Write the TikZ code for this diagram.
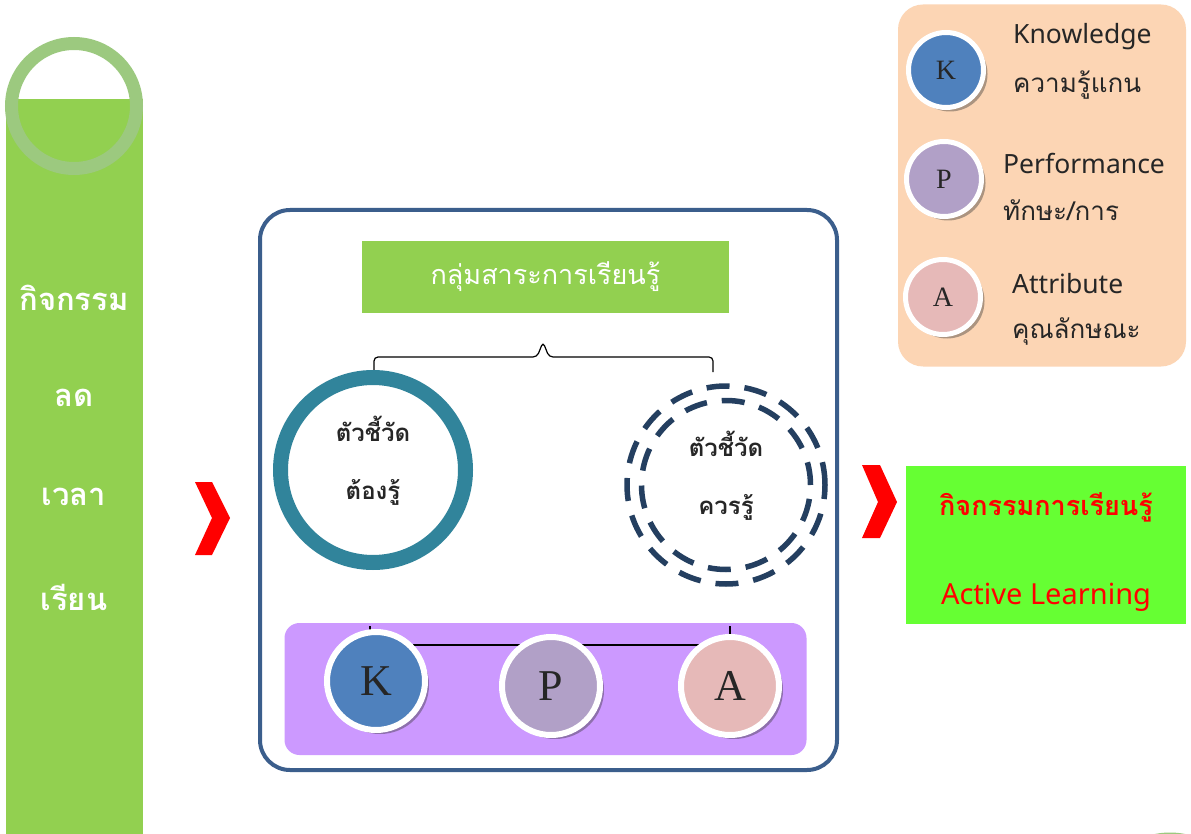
\documentclass[tikz,border=0pt]{standalone}
\usepackage{fontspec}
\newfontfamily\thaifont[Script=Thai]{Loma}
\newfontfamily\latinfont{Noto Sans}
\newfontfamily\letterfont{Liberation Serif}
\usetikzlibrary{shadows}

\definecolor{barGreen}{HTML}{92D050}
\definecolor{ringGreen}{HTML}{9CC97F}
\definecolor{frameBlue}{HTML}{3B5E8C}
\definecolor{tealRing}{HTML}{31849B}
\definecolor{navyDash}{HTML}{243F60}
\definecolor{stripPurple}{HTML}{CC99FF}
\definecolor{kBlue}{HTML}{4F81BD}
\definecolor{pLilac}{HTML}{B1A0C7}
\definecolor{aPink}{HTML}{E6B9B8}
\definecolor{legendPeach}{HTML}{FCD5B4}
\definecolor{actGreen}{HTML}{66FF33}
\definecolor{darkText}{HTML}{262626}

\tikzset{
  bartext/.style={text=white, font=\thaifont\bfseries\fontsize{31}{33}\selectfont},
  frame/.style={draw=frameBlue, line width=4, rounded corners=30, minimum width=577, minimum height=560},
  titlebox/.style={fill=barGreen, text=white, minimum width=367, minimum height=72,
    font=\thaifont\fontsize{27}{30}\selectfont},
  mustring/.style={circle, draw=tealRing, line width=15, minimum size=185},
  shouldring/.style={circle, draw=navyDash, line width=5.5, dash pattern=on 23pt off 15pt},
  ringtext/.style={text=darkText, align=center, font=\thaifont\bfseries\fontsize{24}{58}\selectfont},
  strip/.style={fill=stripPurple, rounded corners=15, minimum width=522, minimum height=132},
  kpa/.style={circle, draw=white, line width=6, minimum size=98, text=darkText,
    font=\letterfont\fontsize{44}{46}\selectfont,
    drop shadow={shadow xshift=4pt, shadow yshift=-4pt, opacity=0.4, fill=black!80}},
  legendbox/.style={fill=legendPeach, rounded corners=25, minimum width=288, minimum height=362},
  legendcirc/.style={circle, draw=white, line width=5, minimum size=75, text=darkText,
    font=\letterfont\fontsize{28}{30}\selectfont,
    drop shadow={shadow xshift=4pt, shadow yshift=-4pt, opacity=0.4, fill=black!80}},
  legendtext/.style={anchor=west, inner sep=0, text=darkText, font=\thaifont\fontsize{26}{28}\selectfont},
  legendlatin/.style={legendtext, font=\latinfont\fontsize{26.5}{28}\selectfont},
  actbox/.style={fill=actGreen, minimum width=280, minimum height=158},
  acttext/.style={text=red, font=\thaifont\bfseries\fontsize{27}{30}\selectfont},
  chevron/.style={fill=red}
}

\begin{document}
\begin{tikzpicture}[x=1pt, y=-1pt]
\useasboundingbox (0,0) rectangle (1191,834);
\fill[white] (0,0) rectangle (1191,834);

% left bar
\fill[barGreen] (6,99) rectangle (143,834);
\draw[ringGreen, line width=13] (74,106) circle (62.5);
\node[bartext] (bar1) at (74,298) {กิจกรรม};
\node[bartext] (bar2) at (74,398) {ลด};
\node[bartext] (bar3) at (74,497) {เวลา};
\node[bartext] (bar4) at (74,597) {เรียน};

% chevrons
\fill[chevron] (195,482) -- (212,482) -- (230,518) -- (212,555) -- (195,555) -- (212,518) -- cycle;
\fill[chevron] (862,465) -- (880,465) -- (897,502) -- (880,538) -- (862,538) -- (878,502) -- cycle;

% main frame
\node[frame] (main) at (548.5,490) {};
\node[titlebox] (group) at (545.5,277) {กลุ่มสาระการเรียนรู้};

% brace
\coordinate (braceL) at (374,372);
\coordinate (braceR) at (713,372);
\coordinate (braceT) at (543,342);
\draw[line width=1.2, rounded corners=4] (braceL) -- (374,357) -- (537,357) -- (braceT) -- (549,357) -- (713,357) -- (braceR);

% indicator circles
\node[mustring] (must) at (373,470) {};
\node[ringtext] (mustlbl) at (373,461) {ตัวชี้วัด\\ต้องรู้};
\node[shouldring, minimum size=198] (should) at (726,485) {};
\node[shouldring, minimum size=169] (shouldin) at (726,485) {};
\node[ringtext] (shouldlbl) at (726,476) {ตัวชี้วัด\\ควรรู้};

% K P A strip
\node[strip] (kpastrip) at (545.5,689) {};
\coordinate (tickK) at (370,626);
\coordinate (tickA) at (730,626);
\draw[line width=1.2] (tickK) -- ++(0,19) -| (tickA);
\node[kpa, fill=kBlue] (k) at (376,681) {K};
\node[kpa, fill=pLilac] (p) at (551,686) {P};
\node[kpa, fill=aPink] (a) at (730,686) {A};

% legend
\node[legendbox] (legend) at (1042,185.5) {};
\node[legendcirc, fill=kBlue] (lk) at (946,70) {K};
\node[legendcirc, fill=pLilac] (lp) at (944,179) {P};
\node[legendcirc, fill=aPink] (la) at (943,297) {A};
\node[legendlatin] (lk1) at (1013,37) {Knowledge};
\node[legendtext] (lk2) at (1013,85) {ความรู้แกน};
\node[legendlatin] (lp1) at (1003,163) {Performance};
\node[legendtext] (lp2) at (1003,210) {ทักษะ/การ};
\node[legendlatin] (la1) at (1012,284) {Attribute};
\node[legendtext] (la2) at (1012,331) {คุณลักษณะ};

% active learning box
\node[actbox] (act) at (1046,545) {};
\node[acttext] (act1) at (1046,507) {กิจกรรมการเรียนรู้};
\node[acttext, font=\latinfont\fontsize{29}{31}\selectfont] (act2) at (1046,597) {Active Learning};

% partial ring at the corner
\draw[ringGreen, line width=13] (1170,908.5) circle (69.5);
\end{tikzpicture}
\end{document}
